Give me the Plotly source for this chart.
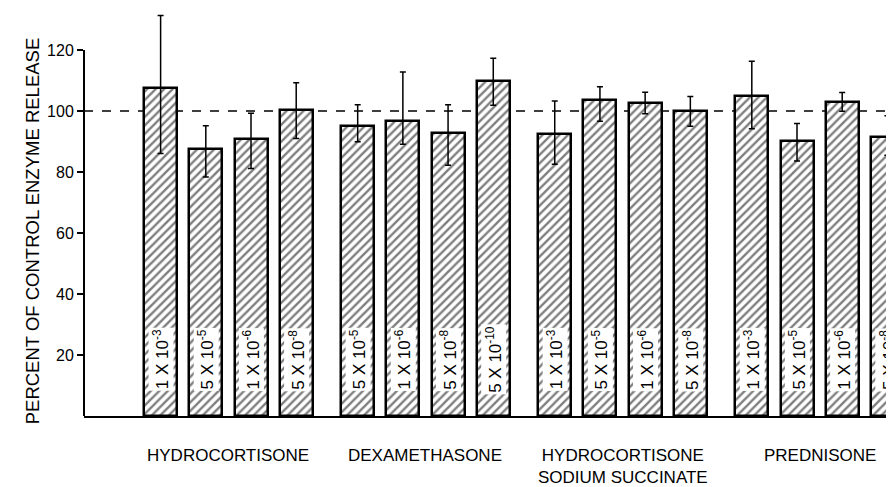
import plotly.graph_objects as go

drugs = ["HYDROCORTISONE", "DEXAMETHASONE", "HYDROCORTISONE<br>SODIUM SUCCINATE", "PREDNISONE"]
doses = [
    ["1 X 10<sup>-3</sup>", "5 X 10<sup>-5</sup>", "1 X 10<sup>-6</sup>", "5 X 10<sup>-8</sup>"],
    ["5 X 10<sup>-5</sup>", "1 X 10<sup>-6</sup>", "5 X 10<sup>-8</sup>", "5 X 10<sup>-10</sup>"],
    ["1 X 10<sup>-3</sup>", "5 X 10<sup>-5</sup>", "1 X 10<sup>-6</sup>", "5 X 10<sup>-8</sup>"],
    ["1 X 10<sup>-3</sup>", "5 X 10<sup>-5</sup>", "1 X 10<sup>-6</sup>", "5 X 10<sup>-8</sup>"],
]
release = [
    [107.6, 87.4, 91.0, 100.5],
    [95.2, 96.9, 92.9, 109.8],
    [92.5, 103.7, 102.5, 100.1],
    [105.0, 90.2, 103.1, 91.6],
]
err_up = [
    [23.7, 7.8, 8.3, 8.8],
    [6.9, 15.9, 9.2, 7.5],
    [10.8, 4.3, 3.7, 4.7],
    [11.3, 5.7, 3.0, 6.9],
]
err_down = [
    [21.5, 9.0, 9.8, 9.5],
    [5.3, 7.8, 10.7, 7.9],
    [9.9, 7.0, 3.4, 5.1],
    [10.8, 6.6, 3.2, 6.1],
]
yticks = [20, 40, 60, 80, 100, 120]

FONT = "Liberation Sans, Arial, sans-serif"
GROUP_STEP = 4.36

xs, ys, eu, ed, labels = [], [], [], [], []
for g in range(len(drugs)):
    for i in range(4):
        xs.append(g * GROUP_STEP + i)
        ys.append(release[g][i])
        eu.append(err_up[g][i])
        ed.append(err_down[g][i])
        labels.append(doses[g][i])

fig = go.Figure()
fig.add_trace(go.Bar(
    x=xs, y=ys, width=0.73,
    marker=dict(color="white", line=dict(color="black", width=2.5),
                pattern=dict(shape="/", fgcolor="black", bgcolor="white", size=6, solidity=0.4)),
    error_y=dict(type="data", array=eu, arrayminus=ed, symmetric=False,
                 color="black", thickness=1.5, width=3),
    showlegend=False,
))

# dose labels in white boxes near the bar bottoms
for x, lab in zip(xs, labels):
    fig.add_annotation(x=x, y=18.5, text=lab, textangle=-90, showarrow=False,
                       bgcolor="white", borderpad=1,
                       font=dict(family=FONT, size=17, color="black"))

# drug names under each group
for g, name in enumerate(drugs):
    fig.add_annotation(x=g * GROUP_STEP + 1.5, y=-0.068, yref="paper", yanchor="top",
                       text=name, showarrow=False, align="center",
                       font=dict(family=FONT, size=17, color="black"))

fig.add_annotation(x=-0.079, y=0.454, xref="paper", yref="paper", textangle=-90,
                   text="PERCENT OF CONTROL ENZYME RELEASE", showarrow=False,
                   font=dict(family=FONT, size=18.5, color="black"))

fig.add_shape(type="line", xref="paper", x0=0, x1=1, y0=100, y1=100,
              line=dict(color="black", width=1.5, dash="dash"), layer="below")
fig.add_shape(type="line", xref="paper", x0=0, x1=0, y0=0, y1=120,
              line=dict(color="black", width=2))

fig.update_xaxes(range=[-1.695, 16.226], showline=True, linecolor="black", linewidth=2,
                 showticklabels=False, ticks="", showgrid=False, zeroline=False)
fig.update_yaxes(range=[0, 133.8], tickvals=yticks, ticks="outside", ticklen=6, tickwidth=1.5,
                 tickcolor="black", showgrid=False, zeroline=False, showline=False,
                 tickfont=dict(family=FONT, size=16, color="black"))

# page body adds an 8px offset, so the figure is 8px smaller each way
fig.update_layout(width=886, height=479, margin=dict(l=76, r=0, t=0, b=70.5),
                  plot_bgcolor="white", paper_bgcolor="white", bargap=0)

fig.write_html("out.html")
